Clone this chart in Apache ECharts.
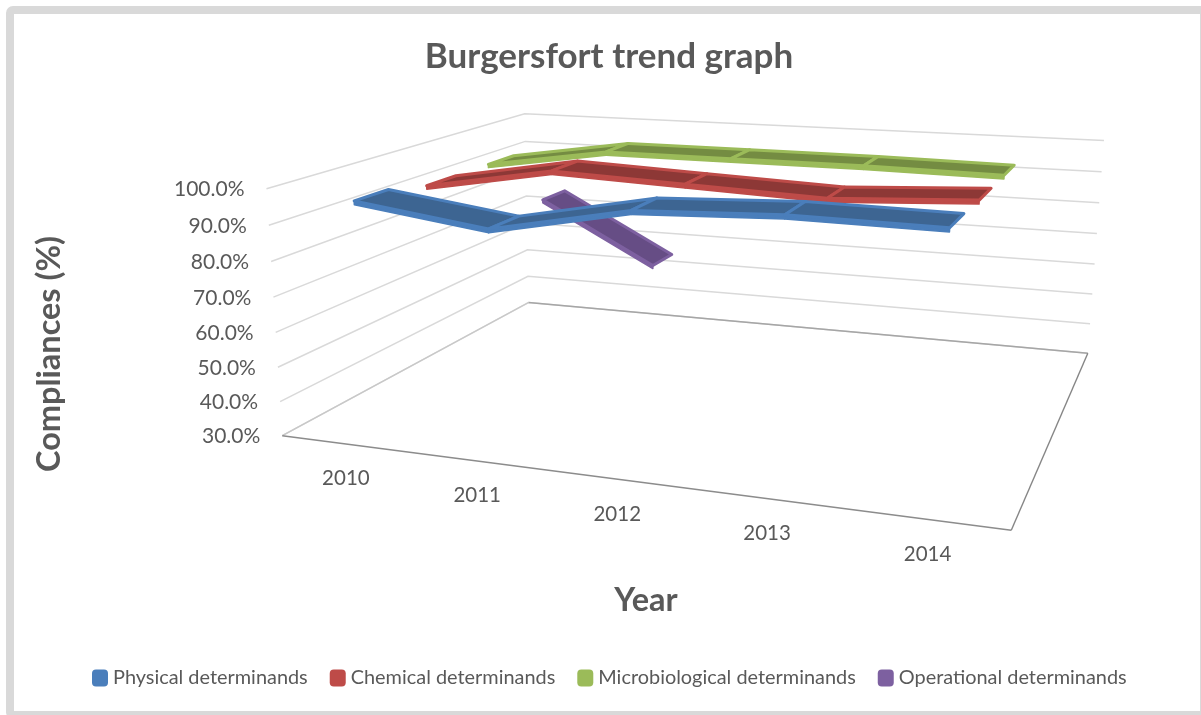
<!DOCTYPE html>
<html>
<head>
<meta charset="utf-8">
<title>Burgersfort trend graph</title>
<style>
  html, body { margin: 0; padding: 0; background: #fff; }
  #chart { width: 1201px; height: 715px; }
</style>
<script src="https://cdn.jsdelivr.net/npm/echarts@6/dist/echarts.min.js"></script>
</head>
<body>
<div id="chart"></div>
<script>
const years = ['2010', '2011', '2012', '2013', '2014']
const yTicks = [30, 40, 50, 60, 70, 80, 90, 100]
const physical = [96, 91, 98.5, 100, 99.5]
const chemical = [93.4, 100, 98.5, 97, 99]
const microbiological = [93.5, 99.5, 99.5, 99.5, 99]
const operational = [75, 55]

const seriesDefs = [
  { name: 'Physical determinands', values: physical, light: '#4a7ebb', dark: '#3d6592', depth: 0.125 },
  { name: 'Chemical determinands', values: chemical, light: '#be4b48', dark: '#8d3836', depth: 0.375 },
  { name: 'Microbiological determinands', values: microbiological, light: '#9bbb59', dark: '#748c42', depth: 0.625 },
  { name: 'Operational determinands', values: operational, light: '#7d60a0', dark: '#664d85', depth: 0.875 },
]

// box corners of the 3d plot: [u, depth, v, px, py]
const boxCorners = [
  [0, 0, 0, 283, 436],
  [1, 0, 0, 1011, 531],
  [1, 1, 0, 1088, 353],
  [0, 1, 0, 528, 302],
  [0, 0, 1, 266, 190],
  [0, 1, 1, 525, 113],
  [1, 1, 1, 1104, 142],
  [1, 0, 1, 1030, 238],
]
const ribbonHalf = 0.057
const ribbonDrop = 0.015
const textColor = '#595959'
const font = 'Lato'

function solve(A, b) {
  const n = b.length
  for (let i = 0; i < n; i++) {
    let p = i
    for (let r = i + 1; r < n; r++) if (Math.abs(A[r][i]) > Math.abs(A[p][i])) p = r
    ;[A[i], A[p]] = [A[p], A[i]]
    ;[b[i], b[p]] = [b[p], b[i]]
    for (let r = i + 1; r < n; r++) {
      const f = A[r][i] / A[i][i]
      for (let c = i; c < n; c++) A[r][c] -= f * A[i][c]
      b[r] -= f * b[i]
    }
  }
  const x = new Array(n).fill(0)
  for (let i = n - 1; i >= 0; i--) {
    let s = b[i]
    for (let c = i + 1; c < n; c++) s -= A[i][c] * x[c]
    x[i] = s / A[i][i]
  }
  return x
}

// least squares fit of the perspective matrix
function fitProjection(points) {
  const rows = []
  const rhs = []
  points.forEach(([u, d, v, X, Y]) => {
    rows.push([u, d, v, 1, 0, 0, 0, 0, -X * u, -X * d, -X * v])
    rhs.push(X)
    rows.push([0, 0, 0, 0, u, d, v, 1, -Y * u, -Y * d, -Y * v])
    rhs.push(Y)
  })
  const ata = Array.from({ length: 11 }, () => new Array(11).fill(0))
  const atb = new Array(11).fill(0)
  rows.forEach((row, k) => {
    for (let i = 0; i < 11; i++) {
      atb[i] += row[i] * rhs[k]
      for (let j = 0; j < 11; j++) ata[i][j] += row[i] * row[j]
    }
  })
  return solve(ata, atb)
}

const m = fitProjection(boxCorners)

function project(u, d, v) {
  const w = m[8] * u + m[9] * d + m[10] * v + 1
  return [(m[0] * u + m[1] * d + m[2] * v + m[3]) / w, (m[4] * u + m[5] * d + m[6] * v + m[7]) / w]
}

// axis value -> fractions of the grid, through the library's own scales
function toUnit(api, params, x, y) {
  const rect = params.coordSys
  const p = api.coord([x, y])
  return [(p[0] - rect.x) / rect.width, 1 - (p[1] - rect.y) / rect.height]
}

function renderGrid(params, api) {
  const v = toUnit(api, params, 0, api.value(1))[1]
  return {
    type: 'polyline',
    shape: { points: [project(0, 0, v), project(0, 1, v), project(1, 1, v)] },
    style: { fill: null, stroke: '#d9d9d9', lineWidth: 1.5 },
  }
}

function renderFloor() {
  const line = (a, b, color) => ({
    type: 'line',
    shape: { x1: a[0], y1: a[1], x2: b[0], y2: b[1] },
    style: { stroke: color, lineWidth: 1.4 },
  })
  const fl = project(0, 0, 0)
  const fr = project(1, 0, 0)
  const br = project(1, 1, 0)
  const bl = project(0, 1, 0)
  return {
    type: 'group',
    children: [line(bl, br, '#a6a6a6'), line(bl, fl, '#c8c8c8'), line(fl, fr, '#8c8c8c'), line(fr, br, '#868686')],
  }
}

function renderRibbon(def) {
  return (params, api) => {
    const i = api.value(0)
    if (i + 1 >= def.values.length) return { type: 'group', children: [] }
    const [u0, v0] = toUnit(api, params, i, def.values[i])
    const [u1, v1] = toUnit(api, params, i + 1, def.values[i + 1])
    const d0 = def.depth - ribbonHalf
    const d1 = def.depth + ribbonHalf
    return {
      type: 'group',
      children: [
        {
          type: 'polygon',
          shape: {
            points: [project(u0, d0, v0), project(u1, d0, v1), project(u1, d0, v1 - ribbonDrop), project(u0, d0, v0 - ribbonDrop)],
          },
          style: { fill: def.light, stroke: def.light, lineWidth: 1.5, lineJoin: 'round' },
        },
        {
          type: 'polygon',
          shape: {
            points: [project(u0, d0, v0), project(u1, d0, v1), project(u1, d1, v1), project(u0, d1, v0)],
          },
          style: { fill: def.dark, stroke: def.light, lineWidth: 3, lineJoin: 'round' },
        },
      ],
    }
  }
}

function renderYearLabel(params, api) {
  const u = toUnit(api, params, api.value(0), 30)[0]
  const p = project(u, 0, 0)
  return {
    type: 'text',
    x: p[0] + 1,
    y: p[1] + 35,
    style: { text: years[api.value(0)], fill: textColor, font: '20.5px ' + font, textAlign: 'center', textVerticalAlign: 'middle' },
  }
}

function renderValueLabel(params, api) {
  const tick = api.value(1)
  const v = toUnit(api, params, 0, tick)[1]
  const p = project(0, 0, v)
  return {
    type: 'text',
    x: p[0] - 22,
    y: p[1] + 1,
    style: { text: tick.toFixed(1) + '%', fill: textColor, font: '21px ' + font, textAlign: 'right', textVerticalAlign: 'middle' },
  }
}

const chart = echarts.init(document.getElementById('chart'), null, { renderer: 'canvas' })

const hiddenParts = { axisLine: { show: false }, axisTick: { show: false }, axisLabel: { show: false }, splitLine: { show: false } }
const nameStyle = { color: textColor, fontFamily: font, fontWeight: 'bold', fontSize: 32.5 }

chart.setOption({
  animation: false,
  backgroundColor: '#ffffff',
  title: {
    text: 'Burgersfort trend graph',
    left: 604,
    top: 34,
    textAlign: 'center',
    textStyle: { color: textColor, fontFamily: font, fontWeight: 'bold', fontSize: 35 },
  },
  graphic: [
    {
      type: 'rect',
      z: -1,
      shape: { x: 10, y: 10, width: 1194, height: 705, r: 3 },
      style: { fill: null, stroke: '#d9d9d9', lineWidth: 8 },
    },
  ],
  legend: {
    left: 87,
    top: 663,
    icon: 'roundRect',
    itemWidth: 16,
    itemHeight: 17,
    itemGap: 22,
    data: seriesDefs.map((s) => s.name),
    textStyle: { color: textColor, fontFamily: font, fontSize: 19.9 },
  },
  grid: { left: 283, right: 192, top: 236, bottom: 243 },
  xAxis: {
    type: 'category',
    data: years,
    name: 'Year',
    nameLocation: 'middle',
    nameGap: 112,
    nameTextStyle: nameStyle,
    ...hiddenParts,
  },
  yAxis: {
    type: 'value',
    min: 30,
    max: 100,
    interval: 10,
    name: 'Compliances (%)',
    nameLocation: 'middle',
    nameGap: 217,
    nameRotate: 90,
    nameTextStyle: nameStyle,
    ...hiddenParts,
  },
  series: [
    { type: 'custom', silent: true, z: 1, renderItem: renderGrid, data: yTicks.map((t) => [0, t]) },
    { type: 'custom', silent: true, z: 1, renderItem: renderFloor, data: [[0, 30]] },
    { type: 'custom', silent: true, z: 1, renderItem: renderYearLabel, data: years.map((_, i) => [i, 30]) },
    { type: 'custom', silent: true, z: 1, renderItem: renderValueLabel, data: yTicks.map((t) => [0, t]) },
    ...seriesDefs.map((def, k) => ({
      type: 'custom',
      name: def.name,
      silent: true,
      z: 10 - k,
      itemStyle: { color: def.light },
      renderItem: renderRibbon(def),
      data: def.values.map((val, i) => [i, val]),
    })),
  ],
})

window.addEventListener('resize', () => chart.resize())
</script>
</body>
</html>
